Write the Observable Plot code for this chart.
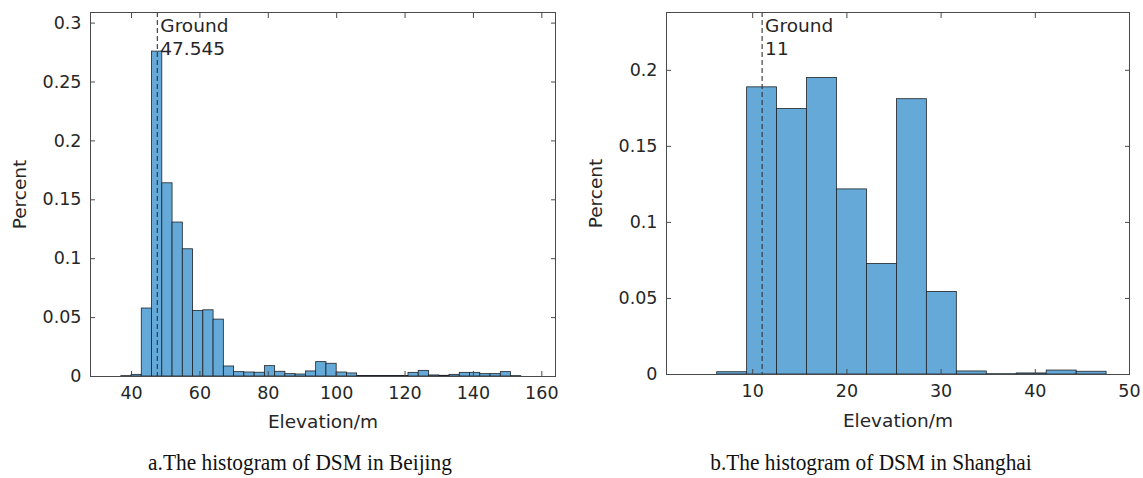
<!DOCTYPE html>
<html><head><meta charset="utf-8">
<script src="https://cdn.jsdelivr.net/npm/d3@7"></script>
<script src="https://cdn.jsdelivr.net/npm/@observablehq/plot@0.6"></script>
<style>
body{margin:0;background:#fff;}
#wrap{position:relative;width:1143px;height:478px;overflow:hidden;background:#fff;}
.panel{position:absolute;top:0;}
.cap{position:absolute;top:451px;font-family:"Liberation Serif";font-size:24px;line-height:22px;color:#111;white-space:nowrap;transform:translateX(-50%) scaleX(0.89);}
</style></head><body>
<div id="wrap">
  <div id="left" class="panel" style="left:0px"></div>
  <div id="right" class="panel" style="left:575px"></div>
  <div class="cap" style="left:300px">a.The histogram of DSM in Beijing</div>
  <div class="cap" style="left:871px">b.The histogram of DSM in Shanghai</div>
</div>
<script>
// Beijing histogram (bin width 3, first bin starts at 37)
const bjBinStart = 37;
const bjBinWidth = 3;
const bjValues = [0.0003, 0.0014, 0.0577, 0.2758, 0.164, 0.1307, 0.108, 0.0556, 0.0562, 0.0483,
  0.0085, 0.0037, 0.0034, 0.0032, 0.0088, 0.0040, 0.0020, 0.0017, 0.0043, 0.0122,
  0.0108, 0.0034, 0.0026, 0.0005, 0.0005, 0.0004, 0.0004, 0.0005, 0.0031, 0.0048,
  0.0009, 0.0006, 0.0014, 0.0031, 0.0031, 0.0020, 0.0020, 0.0037, 0.0003];
const bjGround = 47.545;
const bjXTicks = [40, 60, 80, 100, 120, 140, 160];
const bjYTicks = [0, 0.05, 0.1, 0.15, 0.2, 0.25, 0.3];
const bjXDomain = [28, 164];
const bjYDomain = [0, 0.309];

// Shanghai histogram
const shBinStart = 6.23;
const shBinWidth = 3.18;
const shValues = [0.0015, 0.1888, 0.1745, 0.1950, 0.1217, 0.0727, 0.1810, 0.0543, 0.0020, 0.0002, 0.0007, 0.0026, 0.0018];
const shGround = 11;
const shXTicks = [10, 20, 30, 40, 50];
const shYTicks = [0, 0.05, 0.1, 0.15, 0.2];
const shXDomain = [0.85, 50];
const shYDomain = [0, 0.238];

function bins(start, width, values) {
  return values.map((v, i) => ({x1: start + i * width, x2: start + (i + 1) * width, y: v}));
}

function hist({values, start, width, ground, xTicks, yTicks, xDomain, yDomain, w, h, ml, mr, mt, mb, labelDy}) {
  const ink = "#262626", axisInk = "#4a4a4a";
  return Plot.plot({
    width: w, height: h,
    marginLeft: ml, marginRight: mr, marginTop: mt, marginBottom: mb,
    x: {domain: xDomain},
    y: {domain: yDomain},
    style: {fontFamily: "DejaVu Sans", fontSize: "17.5px", color: ink, background: "#fff"},
    marks: [
      Plot.rectY(bins(start, width, values), {x1: "x1", x2: "x2", y: "y", fill: "#65a9d8", stroke: "#1e2226", strokeWidth: 0.8}),
      Plot.ruleX([ground], {x: d => d, stroke: "#333", strokeWidth: 1.1, strokeDasharray: "5,3"}),
      Plot.text([ground], {x: d => d, frameAnchor: "top", text: d => "Ground\n" + d, textAnchor: "start", lineAnchor: "top", dx: 3, dy: 3, fontSize: 18.5, lineHeight: 1.25, fill: ink}),
      Plot.frame({stroke: axisInk, strokeWidth: 1}),
      Plot.axisX({anchor: "bottom", ticks: xTicks, tickSize: 0, tickPadding: 10, label: null, fill: ink}),
      Plot.axisX({anchor: "bottom", ticks: xTicks, tickSize: 5, text: null, dy: -5, label: null, stroke: axisInk}),
      Plot.axisX({anchor: "top", ticks: xTicks, tickSize: 5, text: null, dy: 5, label: null, stroke: axisInk}),
      Plot.axisY({anchor: "left", ticks: yTicks, tickSize: 0, tickPadding: 9, tickFormat: d => String(d), label: null, fill: ink}),
      Plot.axisY({anchor: "left", ticks: yTicks, tickSize: 5, text: null, dx: 5, label: null, stroke: axisInk}),
      Plot.axisY({anchor: "right", ticks: yTicks, tickSize: 5, text: null, dx: -5, label: null, stroke: axisInk}),
      Plot.text(["Percent"], {text: d => d, frameAnchor: "left", dx: -70, rotate: -90, textAnchor: "middle", lineAnchor: "middle", fontSize: 18.5, fill: ink}),
      Plot.text(["Elevation/m"], {text: d => d, frameAnchor: "bottom", dy: labelDy, textAnchor: "middle", lineAnchor: "middle", fontSize: 18.5, fill: ink})
    ]
  });
}

document.getElementById("left").append(hist({
  values: bjValues, start: bjBinStart, width: bjBinWidth, ground: bjGround,
  xTicks: bjXTicks, yTicks: bjYTicks, xDomain: bjXDomain, yDomain: bjYDomain,
  w: 575, h: 440, ml: 90, mr: 20, mt: 12, mb: 64, labelDy: 46
}));
document.getElementById("right").append(hist({
  values: shValues, start: shBinStart, width: shBinWidth, ground: shGround,
  xTicks: shXTicks, yTicks: shYTicks, xDomain: shXDomain, yDomain: shYDomain,
  w: 568, h: 440, ml: 91, mr: 14, mt: 12, mb: 66, labelDy: 47
}));
</script>
</body></html>
